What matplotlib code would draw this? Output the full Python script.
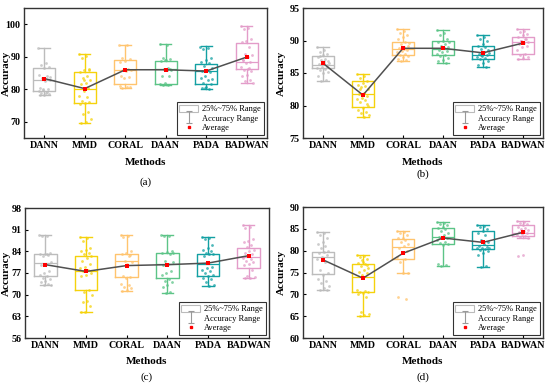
import matplotlib
matplotlib.use('Agg')
import matplotlib.pyplot as plt
import numpy as np
from matplotlib.patches import Rectangle
from matplotlib.lines import Line2D
from matplotlib.path import Path

plt.rcParams['font.family'] = ['Liberation Serif', 'DejaVu Serif']
plt.rcParams['font.size'] = 7

methods = ['DANN', 'MMD', 'CORAL', 'DAAN', 'PADA', 'BADWAN']
colors = ['#bcbcbc', '#f5d20c', '#ffc46e', '#5cc487', '#13a0a3', '#e39cc9']

# ---- panel (a) ----
q1_a = [79.6, 75.8, 81.5, 81.5, 81.5, 86.1]
med_a = [82.7, 80.0, 86.0, 86.1, 85.6, 88.3]
q3_a = [86.6, 85.4, 88.9, 88.8, 87.8, 94.3]
lo_a = [78.2, 69.7, 80.5, 81.3, 80.2, 82.0]
hi_a = [92.8, 90.7, 93.6, 93.9, 93.2, 99.6]
mean_a = [83.3, 80.2, 86.0, 86.0, 85.6, 89.9]
pts_a = [
    [92.8, 88.0, 87.5, 87.0, 86.5, 84.5, 84.0, 83.5, 83.0, 82.5, 80.5, 80.0, 79.8, 79.5,
     79.0, 78.8, 78.5, 78.3, 78.2, 79.2, 80.2, 83.8],
    [90.7, 90.3, 89.5, 86.0, 85.8, 85.2, 84.0, 83.5, 83.0, 82.0, 81.5, 80.5, 79.5, 78.0,
     77.5, 76.5, 76.0, 75.8, 75.5, 73.0, 72.5, 71.0, 70.0, 69.7, 86.2, 82.8],
    [93.6, 93.5, 89.5, 89.2, 88.8, 88.5, 86.3, 86.0, 85.8, 85.5, 84.0, 83.8, 83.5, 81.0,
     80.8, 80.5, 80.6, 86.2],
    [93.8, 93.5, 89.5, 89.3, 89.0, 88.7, 86.5, 86.2, 86.0, 85.8, 84.2, 84.0, 81.8, 81.5,
     81.3, 81.4, 86.1, 89.1],
    [93.1, 92.8, 92.5, 89.5, 89.0, 88.5, 88.0, 87.2, 86.5, 86.0, 85.6, 85.3, 84.0, 83.5,
     83.0, 82.0, 81.5, 80.8, 80.5, 80.2, 80.4, 83.2],
    [99.6, 99.0, 98.5, 95.5, 95.0, 94.5, 93.0, 91.0, 90.5, 89.8, 89.0, 88.5, 88.0, 87.0,
     86.5, 86.0, 85.5, 84.5, 84.0, 83.0, 82.5, 82.0, 86.3, 88.9],
]

# ---- panel (b) ----
q1_b = [85.7, 79.8, 87.8, 87.8, 87.1, 88.0]
med_b = [86.3, 81.7, 88.7, 88.7, 87.8, 89.8]
q3_b = [87.6, 83.7, 89.7, 89.9, 89.2, 90.5]
lo_b = [83.8, 78.3, 86.8, 86.5, 86.0, 87.1]
hi_b = [89.0, 84.8, 91.8, 91.6, 90.8, 91.7]
mean_b = [86.5, 81.6, 88.8, 88.8, 88.1, 89.6]
pts_b = [
    [89.0, 88.5, 88.2, 88.0, 87.8, 87.5, 87.2, 87.0, 86.8, 86.6, 86.4, 86.2, 86.0, 85.8,
     85.6, 85.4, 85.2, 85.0, 84.5, 84.0, 83.8, 86.5, 86.9, 87.6, 85.9],
    [84.8, 84.5, 84.2, 83.8, 83.5, 83.2, 83.0, 82.8, 82.5, 82.0, 81.8, 81.5, 81.2, 81.0,
     80.8, 80.5, 80.0, 79.6, 79.3, 79.0, 78.8, 78.5, 78.3, 82.6, 80.2],
    [91.8, 91.5, 91.2, 90.8, 90.5, 90.2, 89.8, 89.5, 89.2, 89.0, 88.8, 88.6, 88.4, 88.2,
     88.0, 87.8, 87.6, 87.4, 87.2, 87.0, 86.8, 89.6, 88.7],
    [91.6, 91.2, 90.8, 90.3, 90.0, 89.7, 89.4, 89.2, 89.0, 88.8, 88.6, 88.4, 88.2, 88.0,
     87.8, 87.6, 87.3, 87.0, 86.8, 86.5, 88.9, 89.8],
    [90.8, 90.5, 90.2, 89.9, 89.5, 89.2, 89.0, 88.7, 88.5, 88.2, 88.0, 87.8, 87.6, 87.5,
     87.3, 87.1, 86.9, 86.6, 86.3, 86.0, 87.7, 88.1],
    [91.7, 91.5, 91.3, 91.0, 90.8, 90.5, 90.2, 90.0, 89.8, 89.6, 89.4, 89.2, 89.0, 88.5,
     88.0, 87.8, 87.5, 87.3, 87.1, 90.3, 89.9],
]

# ---- panel (c) ----
q1_c = [75.9, 71.4, 75.6, 75.4, 75.9, 78.6]
med_c = [80.2, 77.8, 80.8, 80.0, 80.0, 82.2]
q3_c = [83.1, 82.6, 83.1, 83.5, 83.3, 85.1]
lo_c = [73.0, 64.3, 71.1, 70.6, 72.7, 75.4]
hi_c = [89.2, 88.5, 89.4, 89.2, 88.6, 92.4]
mean_c = [79.7, 77.5, 79.4, 79.7, 80.2, 82.6]
pts_c = [
    [89.2, 89.0, 88.8, 83.5, 83.2, 83.0, 82.8, 82.5, 80.5, 80.0, 79.5, 77.5, 77.0, 76.5,
     76.0, 75.5, 75.0, 74.5, 74.0, 73.5, 73.2, 73.0, 83.3],
    [88.5, 88.2, 87.5, 85.0, 84.5, 84.0, 83.5, 83.0, 82.5, 82.0, 81.0, 80.0, 79.0, 78.5,
     78.0, 77.5, 77.0, 76.5, 76.0, 71.5, 71.0, 70.0, 68.0, 67.5, 66.5, 64.5, 64.3],
    [89.4, 89.0, 88.5, 84.0, 83.5, 83.2, 82.5, 81.0, 80.5, 80.0, 76.0, 75.8, 75.5, 73.5,
     73.0, 72.5, 72.0, 71.5, 71.1, 82.8],
    [89.2, 89.0, 88.8, 84.0, 83.8, 83.5, 83.2, 81.0, 80.5, 80.0, 79.5, 77.5, 77.0, 76.5,
     75.0, 74.5, 74.0, 73.0, 72.5, 71.0, 70.6, 83.6],
    [88.6, 88.3, 88.0, 86.0, 85.0, 84.5, 84.0, 83.5, 83.2, 83.0, 82.5, 79.0, 78.5, 78.0,
     77.5, 77.0, 76.5, 76.0, 75.5, 75.0, 74.0, 73.0, 72.7],
    [92.4, 92.0, 91.5, 88.0, 87.5, 87.0, 86.0, 85.5, 84.5, 84.0, 83.5, 83.0, 82.5, 82.0,
     81.5, 81.0, 80.5, 80.0, 79.5, 78.0, 76.0, 75.8, 75.5, 75.4],
]

# ---- panel (d) ----
q1_d = [74.7, 70.5, 78.2, 81.5, 80.4, 83.3]
med_d = [78.5, 74.0, 80.8, 83.1, 81.4, 84.0]
q3_d = [79.8, 77.0, 82.7, 85.2, 84.4, 85.8]
lo_d = [70.9, 65.0, 74.9, 76.6, 76.2, 83.0]
hi_d = [84.3, 78.9, 84.4, 86.6, 85.8, 86.7]
mean_d = [77.9, 73.7, 79.4, 82.9, 81.9, 84.2]
pts_d = [
    [84.3, 84.0, 83.5, 83.0, 82.0, 81.5, 81.0, 80.5, 80.0, 79.8, 79.5, 79.0, 78.5, 78.0,
     77.5, 75.5, 75.0, 74.5, 73.5, 73.0, 72.5, 72.0, 71.5, 71.0, 70.9],
    [78.9, 78.7, 78.5, 78.0, 77.5, 77.2, 77.0, 76.5, 76.0, 75.5, 75.2, 75.0, 74.5, 71.0,
     70.8, 70.6, 70.5, 70.2, 70.0, 69.5, 66.0, 65.5, 65.2, 65.0, 76.8, 77.8],
    [84.4, 84.2, 84.0, 83.5, 83.0, 82.8, 82.5, 82.0, 81.5, 81.0, 80.5, 80.0, 79.5, 78.5,
     78.0, 77.5, 75.0, 74.9, 69.3, 69.0],
    [86.6, 86.4, 86.0, 85.8, 85.5, 85.2, 85.0, 84.5, 84.0, 83.5, 83.2, 83.0, 82.8, 82.5,
     82.0, 81.8, 81.5, 81.2, 77.0, 76.8, 76.6],
    [85.8, 85.6, 85.4, 85.0, 84.5, 84.0, 83.5, 82.5, 82.0, 81.5, 81.0, 80.8, 80.6, 80.5,
     80.3, 80.2, 80.0, 79.5, 79.0, 76.5, 76.2, 80.7],
    [86.7, 86.5, 86.3, 86.0, 85.8, 85.5, 85.3, 85.0, 84.8, 84.5, 84.3, 84.0, 83.8, 83.5,
     83.3, 83.2, 83.0, 79.0, 78.8],
]

W, H = 550, 387
fig = plt.figure(figsize=(W / 100, H / 100), dpi=100)

# "I" shaped marker for the whisker legend entry
i_marker = Path([(-0.5, -1), (0.5, -1), (0, -1), (0, 1), (-0.5, 1), (0.5, 1)],
                [Path.MOVETO, Path.LINETO, Path.MOVETO, Path.LINETO, Path.MOVETO, Path.LINETO])


def draw(rect, q1, med, q3, lo, hi, mean, pts, ylim, yticks, tag, lab_y, tag_y, ylab_x):
    l, t, r, b = rect
    ax = fig.add_axes([l / W, 1 - b / H, (r - l) / W, (b - t) / H])
    pos = np.arange(1, 7)
    stats = [dict(med=med[i], q1=q1[i], q3=q3[i], whislo=lo[i], whishi=hi[i], fliers=[])
             for i in range(6)]
    for i in range(6):
        c = colors[i]
        ax.bxp([stats[i]], positions=[pos[i]], widths=0.55, showfliers=False, capwidths=0.28,
               boxprops=dict(color=c, lw=1.0), medianprops=dict(color=c, lw=0.9),
               whiskerprops=dict(color=c, lw=1.0), capprops=dict(color=c, lw=1.0))
        n = len(pts[i])
        off = ((np.arange(n) * 0.618034) % 1 - 0.5) * 0.3
        ax.scatter(pos[i] + off, pts[i], s=4, color=c, alpha=0.75, lw=0, zorder=3)
    ax.plot(pos, mean, color='#505050', lw=1.1, zorder=4)
    ax.scatter(pos, mean, s=7, marker='s', color='red', lw=0, zorder=5)
    ax.set_xlim(0.5, 6.5)
    ax.set_ylim(*ylim)
    ax.set_yticks(yticks)
    ax.set_xticks(pos)
    ax.set_xticklabels(methods, fontweight='bold', fontsize=7.2)
    for lbl in ax.get_yticklabels():
        lbl.set_fontweight('bold')
        lbl.set_fontsize(7.2)
    ax.tick_params(direction='in', length=2.5, width=0.8, pad=2.5)
    for s in ax.spines.values():
        s.set_linewidth(1.0)
        s.set_color('#333333')
    ax.set_ylabel('Accuracy', fontweight='bold', fontsize=8)
    ax.yaxis.set_label_coords((ylab_x - l) / (r - l), 0.5)
    cx = (l + r) / 2 / W
    fig.text(cx, 1 - lab_y / H, 'Methods', ha='center', va='center', fontweight='bold', fontsize=8)
    fig.text(cx, 1 - tag_y / H, tag, ha='center', va='center', fontsize=8)
    handles = [Rectangle((0, 0), 1, 1, facecolor='white', edgecolor='#bbbbbb', lw=0.8),
               Line2D([], [], marker=i_marker, color='#999999', ls='none', markersize=8,
                      markeredgewidth=0.8, markerfacecolor='none'),
               Line2D([], [], marker='s', color='red', ls='none', markersize=2)]
    leg = ax.legend(handles, ['25%~75% Range', 'Accuracy Range', 'Average'], loc='lower right',
                    fontsize=6, frameon=True, fancybox=False, edgecolor='black',
                    borderaxespad=0.4, handlelength=2.3, handleheight=0.9, labelspacing=0.15,
                    borderpad=0.3, handletextpad=0.5)
    leg.get_frame().set_linewidth(0.8)
    return ax


draw((24, 8, 267, 138), q1_a, med_a, q3_a, lo_a, hi_a, mean_a, pts_a,
     (65, 105), [70, 80, 90, 100], '(a)', 163, 182, 11)
draw((303, 8, 543, 138), q1_b, med_b, q3_b, lo_b, hi_b, mean_b, pts_b,
     (75, 95), [75, 80, 85, 90, 95], '(b)', 163, 174, 286)
draw((25, 208, 269, 338), q1_c, med_c, q3_c, lo_c, hi_c, mean_c, pts_c,
     (56, 98), [56, 63, 70, 77, 84, 91, 98], '(c)', 361, 377, 11)
draw((303, 207, 543, 338), q1_d, med_d, q3_d, lo_d, hi_d, mean_d, pts_d,
     (60, 90), [60, 65, 70, 75, 80, 85, 90], '(d)', 361, 377, 286)

fig.savefig('out.png', dpi=100)
